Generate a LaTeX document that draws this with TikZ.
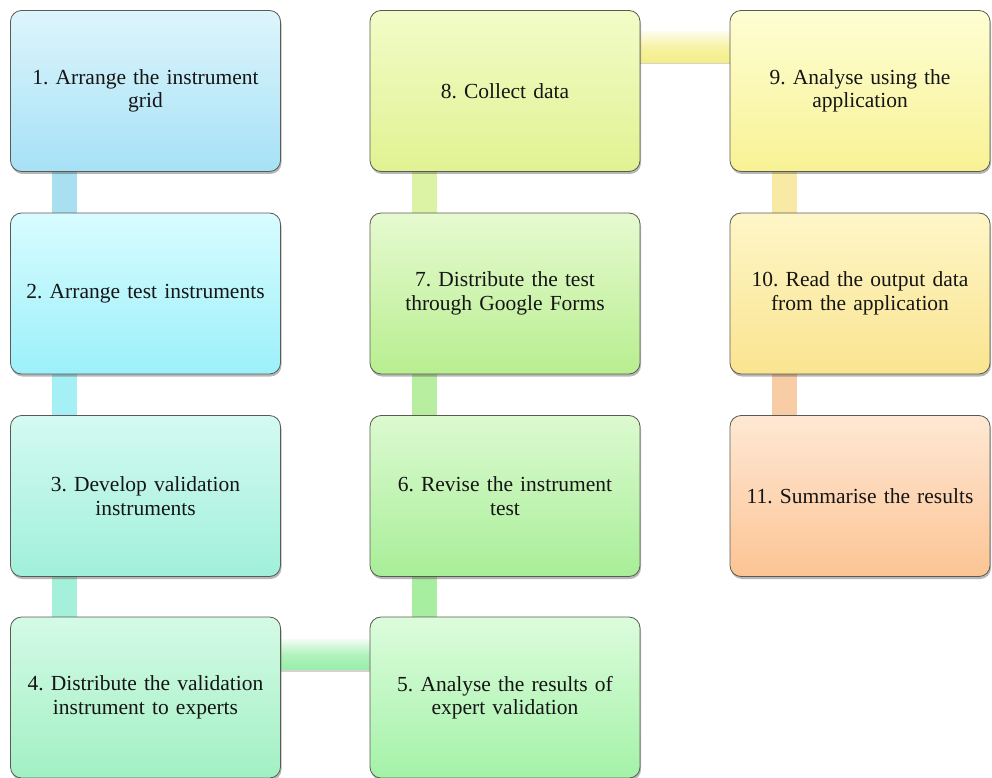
\documentclass[tikz,border=0pt]{standalone}
\usepackage{fontspec}
\setmainfont{LiberationSerif}[Extension=.ttf, UprightFont=*-Regular, BoldFont=*-Bold, ItalicFont=*-Italic, BoldItalicFont=*-BoldItalic]
\usetikzlibrary{shadows,backgrounds}
\definecolor{t1}{HTML}{DDF5FC}\definecolor{b1}{HTML}{A6E1F6}
\definecolor{t2}{HTML}{D8FCFF}\definecolor{b2}{HTML}{9CF0FA}
\definecolor{t3}{HTML}{D4FAF2}\definecolor{b3}{HTML}{A0F0DA}
\definecolor{t4}{HTML}{D4FAE6}\definecolor{b4}{HTML}{A2F0C4}
\definecolor{t5}{HTML}{DCFCDC}\definecolor{b5}{HTML}{A4F2A8}
\definecolor{t6}{HTML}{DCFAD0}\definecolor{b6}{HTML}{A8EE98}
\definecolor{t7}{HTML}{E6FAD0}\definecolor{b7}{HTML}{B8EE90}
\definecolor{t8}{HTML}{F2FCC8}\definecolor{b8}{HTML}{E0F292}
\definecolor{t9}{HTML}{FEFED4}\definecolor{b9}{HTML}{F8F294}
\definecolor{t10}{HTML}{FEF6C8}\definecolor{b10}{HTML}{FAE490}
\definecolor{t11}{HTML}{FEE8D4}\definecolor{b11}{HTML}{FCC494}
\definecolor{c12}{HTML}{A8E0F2}
\definecolor{c23}{HTML}{A4F0F4}
\definecolor{c34}{HTML}{A4F0DA}
\definecolor{c45}{HTML}{98EEA8}
\definecolor{c56}{HTML}{A8EEA0}
\definecolor{c67}{HTML}{B8EEA0}
\definecolor{c78}{HTML}{DCF2A4}
\definecolor{c89}{HTML}{F4EE88}
\definecolor{c910}{HTML}{F8EAA4}
\definecolor{c1011}{HTML}{F8CCA4}
\definecolor{edge}{HTML}{5A5A50}
\definecolor{txt}{HTML}{151515}
\tikzset{
  stepbox/.style={draw=edge, line width=0.8pt, rounded corners=11pt,
    minimum width=270pt, minimum height=161pt, inner sep=0pt,
    align=center, text=txt, text width=255pt,
    font=\fontsize{21.5}{23.5}\selectfont\frenchspacing,
    drop shadow={shadow xshift=1pt, shadow yshift=-2.5pt, opacity=0.4, fill=black!70}},
  narrowbox/.style={stepbox, minimum width=260pt},
  vconn/.style={line width=25pt},
  hconn/.style={drop shadow={shadow xshift=0pt, shadow yshift=-2pt, opacity=0.35}}
}
\begin{document}
\begin{tikzpicture}[x=1pt,y=-1pt]
\useasboundingbox (0,0) rectangle (992,778);
\node[stepbox, top color=t1, bottom color=b1] (n1) at (145.5,91) {1. Arrange the instrument\\grid};
\node[stepbox, top color=t2, bottom color=b2] (n2) at (145.5,293.5) {2. Arrange test instruments};
\node[stepbox, top color=t3, bottom color=b3] (n3) at (145.5,496) {3. Develop validation\\instruments};
\node[stepbox, top color=t4, bottom color=b4] (n4) at (145.5,697.5) {4. Distribute the validation\\instrument to experts};
\node[stepbox, top color=t5, bottom color=b5] (n5) at (505,697.5) {5. Analyse the results of\\expert validation};
\node[stepbox, top color=t6, bottom color=b6] (n6) at (505,496) {6. Revise the instrument\\test};
\node[stepbox, top color=t7, bottom color=b7] (n7) at (505,293.5) {7. Distribute the test\\through Google Forms};
\node[stepbox, top color=t8, bottom color=b8] (n8) at (505,91) {8. Collect data};
\node[narrowbox, top color=t9, bottom color=b9] (n9) at (860,91) {9. Analyse using the\\application};
\node[narrowbox, top color=t10, bottom color=b10] (n10) at (860,293.5) {10. Read the output data\\from the application};
\node[narrowbox, top color=t11, bottom color=b11] (n11) at (860,496) {11. Summarise the results};
\begin{scope}[on background layer]
\draw[vconn, c12] ([xshift=54.5pt]n1.south west) -- ([xshift=54.5pt]n2.north west);
\draw[vconn, c23] ([xshift=54.5pt]n2.south west) -- ([xshift=54.5pt]n3.north west);
\draw[vconn, c34] ([xshift=54.5pt]n3.south west) -- ([xshift=54.5pt]n4.north west);
\path[hconn, top color=c45!15, bottom color=c45, middle color=c45!75] ([yshift=-23pt]n4.north east) rectangle ([yshift=-53pt]n5.north west);
\draw[vconn, c56] ([xshift=55pt]n5.north west) -- ([xshift=55pt]n6.south west);
\draw[vconn, c67] ([xshift=55pt]n6.north west) -- ([xshift=55pt]n7.south west);
\draw[vconn, c78] ([xshift=55pt]n7.north west) -- ([xshift=55pt]n8.south west);
\path[hconn, top color=c89!15, bottom color=c89, middle color=c89!75] ([yshift=-21pt]n8.north east) rectangle ([yshift=-52pt]n9.north west);
\draw[vconn, c910] ([xshift=54.5pt]n9.south west) -- ([xshift=54.5pt]n10.north west);
\draw[vconn, c1011] ([xshift=54.5pt]n10.south west) -- ([xshift=54.5pt]n11.north west);
\end{scope}
\end{tikzpicture}
\end{document}
